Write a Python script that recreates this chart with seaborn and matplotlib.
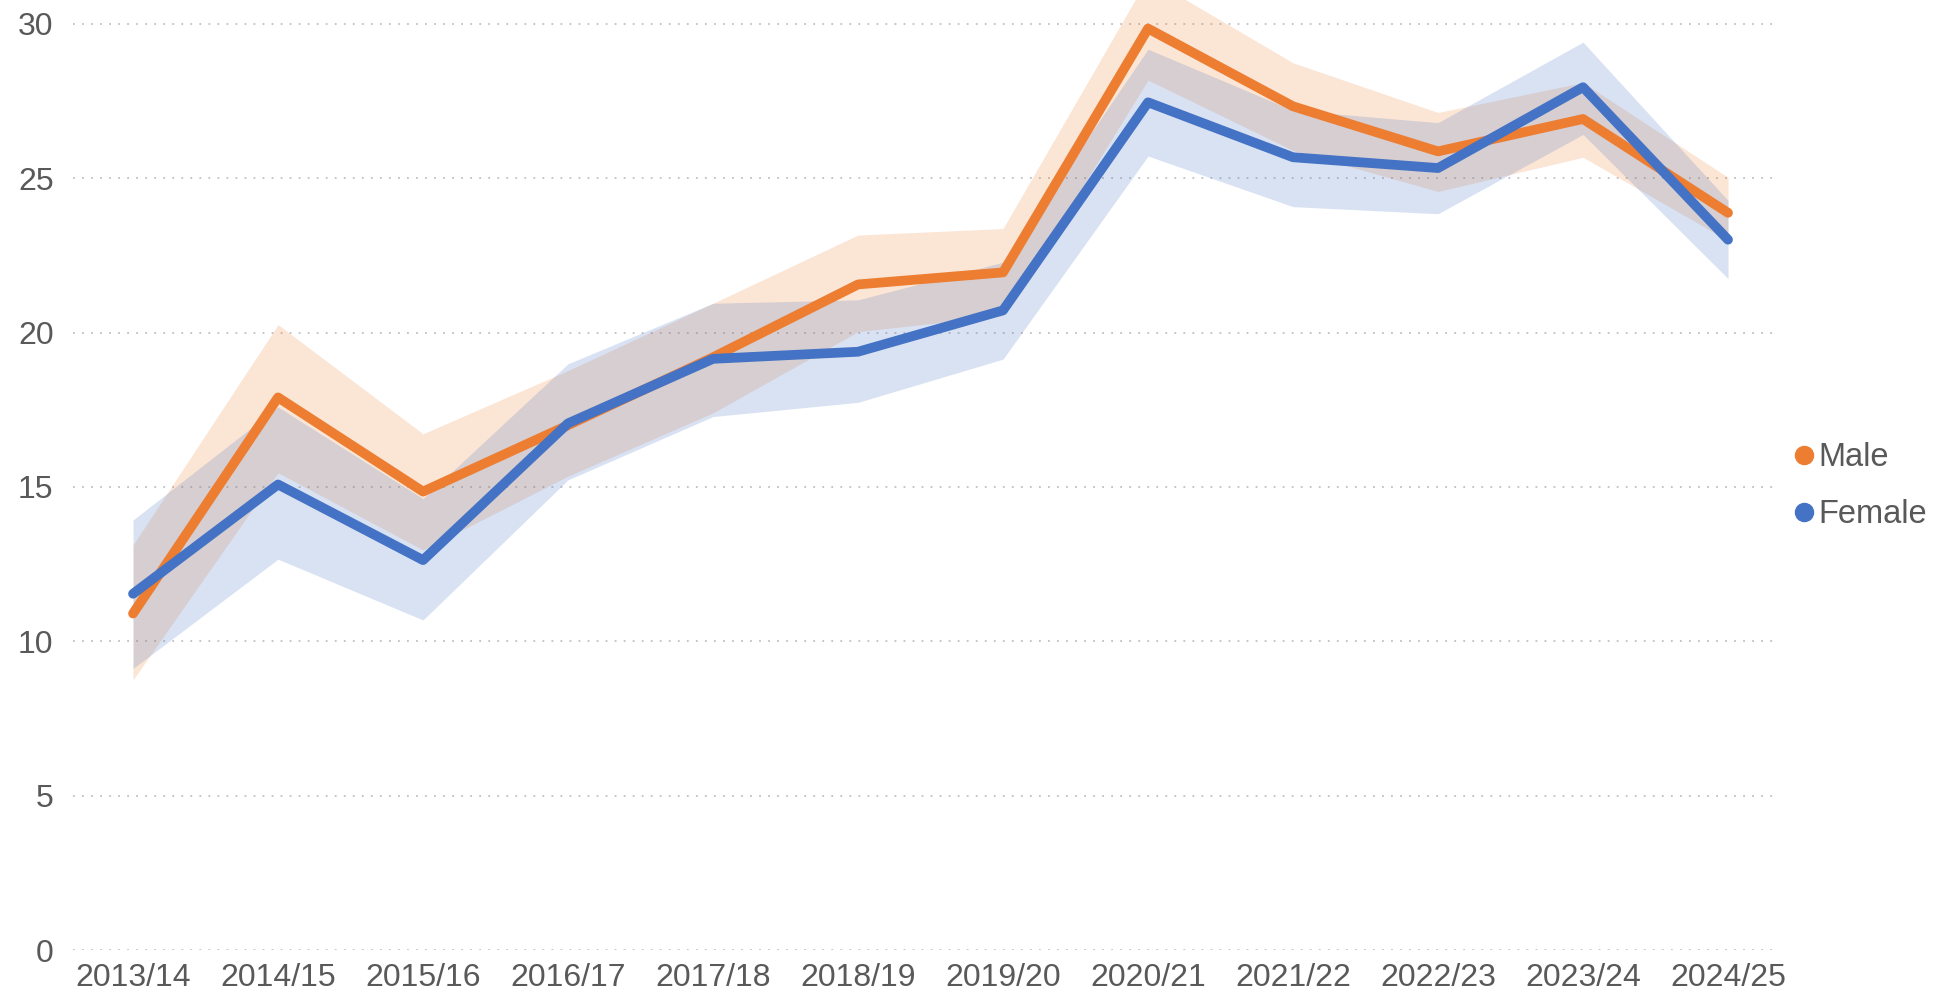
import matplotlib
matplotlib.use("Agg")
import matplotlib.pyplot as plt
from matplotlib.lines import Line2D
import seaborn as sns
import pandas as pd
import numpy as np

# Values
years = ['2013/14', '2014/15', '2015/16', '2016/17', '2017/18', '2018/19',
         '2019/20', '2020/21', '2021/22', '2022/23', '2023/24', '2024/25']
male = [10.9, 17.9, 14.85, 17.0, 19.2, 21.56, 21.95, 29.85, 27.33, 25.87, 26.92, 23.88]
male_lo = [8.75, 15.46, 12.96, 15.35, 17.4, 20.03, 20.55, 28.18, 25.9, 24.57, 25.68, 22.98]
male_hi = [13.12, 20.26, 16.72, 18.77, 20.95, 23.16, 23.37, 31.5, 28.74, 27.13, 28.1, 25.03]
female = [11.54, 15.08, 12.63, 17.06, 19.15, 19.38, 20.72, 27.46, 25.68, 25.33, 27.95, 23.01]
female_lo = [9.12, 12.66, 10.69, 15.23, 17.28, 17.74, 19.14, 25.72, 24.08, 23.85, 26.42, 21.75]
female_hi = [13.93, 17.59, 14.62, 18.99, 20.95, 21.06, 22.28, 29.18, 27.2, 26.8, 29.41, 24.28]
yticks = [0, 5, 10, 15, 20, 25, 30]

colors = {'Male': '#ED7D31', 'Female': '#4472C4'}
text_color = '#595959'

sns.set_theme(style='white')
plt.rcParams['font.family'] = ['Liberation Sans', 'DejaVu Sans']

pos = np.arange(len(years))
df = pd.DataFrame({
    'pos': np.concatenate([pos, pos]),
    'value': male + female,
    'sex': ['Male'] * len(years) + ['Female'] * len(years),
})

fig = plt.figure(figsize=(19.48, 9.94), dpi=100)
ax = fig.add_axes([73 / 1948, 44 / 994, (1775 - 73) / 1948, 950 / 994])

# confidence bands
ax.fill_between(pos, male_lo, male_hi, color=colors['Male'], alpha=0.2, linewidth=0)
ax.fill_between(pos, female_lo, female_hi, color=colors['Female'], alpha=0.2, linewidth=0)

sns.lineplot(data=df, x='pos', y='value', hue='sex', hue_order=['Male', 'Female'],
             palette=colors, linewidth=7, legend=False, ax=ax,
             solid_capstyle='round')

ax.set_xlim(-0.414, 11.324)
ax.set_ylim(0, 950 / 30.87)
ax.set_xticks(pos)
ax.set_xticklabels(years)
ax.set_yticks(yticks)
ax.set_xlabel('')
ax.set_ylabel('')
ax.tick_params(axis='both', length=0, labelsize=23, colors=text_color)
ax.tick_params(axis='x', pad=9)
ax.tick_params(axis='y', pad=14)
ax.grid(axis='y', color='#C0C0C0', linestyle=(0, (1, 4)), linewidth=1.3)
ax.grid(axis='x', visible=False)
ax.set_axisbelow(True)
sns.despine(ax=ax, left=True, bottom=True)

handles = [Line2D([], [], marker='o', linestyle='none', markersize=13,
                  markerfacecolor=colors[k], markeredgecolor=colors[k]) for k in ['Male', 'Female']]
leg = fig.legend(handles, ['Male', 'Female'], loc='center left',
                 bbox_to_anchor=(1781 / 1948, 1 - 486 / 994), frameon=False,
                 fontsize=23.5, handlelength=0.6, handletextpad=0.15, labelspacing=0.8,
                 borderaxespad=0)
for t in leg.get_texts():
    t.set_color(text_color)

fig.savefig('out.png', dpi=100)
plt.close(fig)
